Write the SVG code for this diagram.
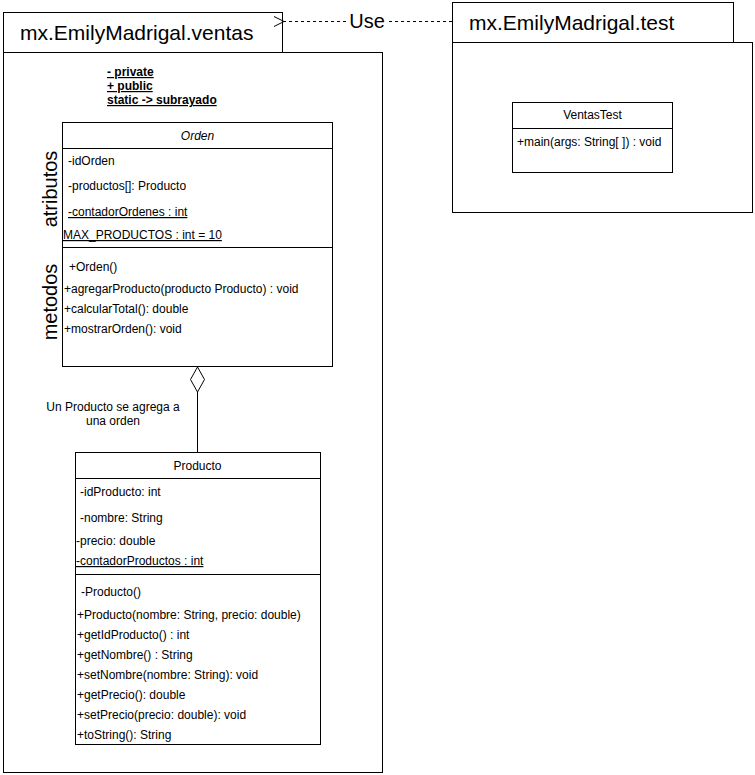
<svg xmlns="http://www.w3.org/2000/svg" width="755" height="775" viewBox="0 0 755 775">
<style>
.b{fill:#fff;stroke:#000;stroke-width:1}
.t{font-family:"Liberation Sans",Arial,sans-serif;font-size:12px;fill:#000}
.pk{font-family:"Liberation Sans",Arial,sans-serif;font-size:21px;fill:#000}
.u{text-decoration:underline}
.c{text-anchor:middle}
.side{font-family:"Liberation Sans",Arial,sans-serif;font-size:20px;fill:#000;text-anchor:middle}
</style>
<defs>
<marker id="open" markerWidth="12" markerHeight="12" refX="1" refY="6" orient="auto" markerUnits="userSpaceOnUse">
<path d="M11,1 L1,6 L11,11" fill="none" stroke="#000" stroke-width="1"/>
</marker>
</defs>
<rect width="755" height="775" fill="#fff"/>
<g id="pkg-ventas">
<rect class="b" x="3.5" y="52.5" width="379" height="720"/>
<rect class="b" x="3.5" y="12.5" width="279" height="40"/>
<text class="pk" x="20" y="40">mx.EmilyMadrigal.ventas</text>
</g>
<g id="legend">
<text class="t u" x="107" y="76" font-weight="bold">- private</text>
<text class="t u" x="107" y="90" font-weight="bold">+ public</text>
<text class="t u" x="107" y="104" font-weight="bold">static -&gt; subrayado</text>
</g>
<g id="pkg-test">
<rect class="b" x="452.5" y="42.5" width="300" height="170"/>
<rect class="b" x="452.5" y="2.5" width="281" height="40"/>
<text class="pk" x="469" y="30">mx.EmilyMadrigal.test</text>
</g>
<g id="VentasTest">
<rect class="b" x="512.5" y="102.5" width="160" height="70"/>
<line x1="512.5" y1="128.5" x2="672.5" y2="128.5" stroke="#000"/>
<text class="t c" x="592.5" y="119">VentasTest</text>
<text class="t" x="517" y="146">+main(args: String[ ]) : void</text>
</g>
<g id="Orden">
<rect class="b" x="62.5" y="122.5" width="270" height="244"/>
<line x1="62.5" y1="148.5" x2="332.5" y2="148.5" stroke="#000"/>
<line x1="62.5" y1="247.5" x2="332.5" y2="247.5" stroke="#000"/>
<text class="t c" x="197.5" y="140" font-style="italic">Orden</text>
<text class="t" x="68" y="165">-idOrden</text>
<text class="t" x="68" y="190">-productos[]: Producto</text>
<text class="t u" x="68" y="216">-contadorOrdenes : int</text>
<text class="t u" x="63" y="239">MAX_PRODUCTOS : int = 10</text>
<text class="t" x="69" y="271">+Orden()</text>
<text class="t" x="64" y="293">+agregarProducto(producto Producto) : void</text>
<text class="t" x="64" y="313">+calcularTotal(): double</text>
<text class="t" x="64" y="333">+mostrarOrden(): void</text>
</g>
<g id="labels">
<text class="side" transform="translate(57,189) rotate(-90)">atributos</text>
<text class="side" transform="translate(57,302) rotate(-90)">metodos</text>
</g>
<g id="Producto">
<rect class="b" x="75.5" y="452.5" width="245" height="292"/>
<line x1="75.5" y1="478.5" x2="320.5" y2="478.5" stroke="#000"/>
<line x1="75.5" y1="574.5" x2="320.5" y2="574.5" stroke="#000"/>
<text class="t c" x="197.5" y="470">Producto</text>
<text class="t" x="80" y="496">-idProducto: int</text>
<text class="t" x="80" y="522">-nombre: String</text>
<text class="t" x="76" y="545">-precio: double</text>
<text class="t u" x="76" y="565">-contadorProductos : int</text>
<text class="t" x="81" y="596">-Producto()</text>
<text class="t" x="77" y="619">+Producto(nombre: String, precio: double)</text>
<text class="t" x="77" y="639">+getIdProducto() : int</text>
<text class="t" x="77" y="659">+getNombre() : String</text>
<text class="t" x="77" y="679">+setNombre(nombre: String): void</text>
<text class="t" x="77" y="699">+getPrecio(): double</text>
<text class="t" x="77" y="719">+setPrecio(precio: double): void</text>
<text class="t" x="77" y="739">+toString(): String</text>
</g>
<g id="connectors">
<line x1="197.5" y1="392" x2="197.5" y2="452" stroke="#000"/>
<path d="M197.5,367 L204.5,379.5 L197.5,392 L190.5,379.5 Z" fill="#fff" stroke="#000"/>
<text class="t c" x="113" y="411">Un Producto se agrega a</text>
<text class="t c" x="113" y="425">una orden</text>
<line x1="452" y1="21.5" x2="388" y2="21.5" stroke="#000" stroke-dasharray="3,3"/>
<line x1="346" y1="21.5" x2="284" y2="21.5" stroke="#000" stroke-dasharray="3,3" marker-end="url(#open)"/>
<text x="367" y="28" font-family="Liberation Sans,Arial,sans-serif" font-size="20" text-anchor="middle">Use</text>
</g>
</svg>
